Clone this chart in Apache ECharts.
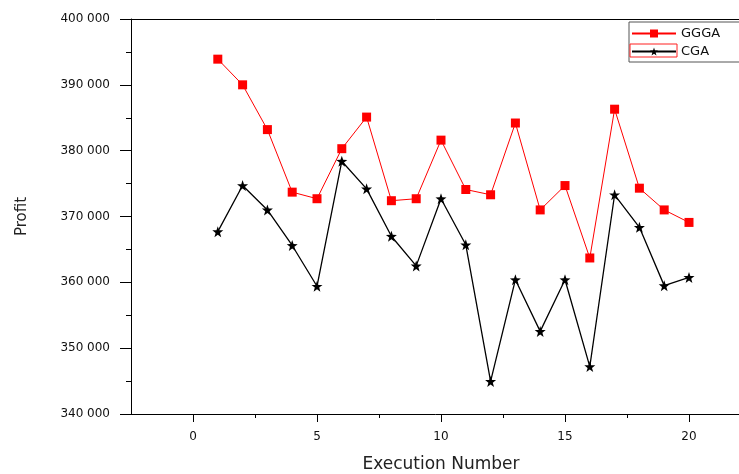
<!DOCTYPE html>
<html><head><meta charset="utf-8">
<script src="https://cdn.jsdelivr.net/npm/echarts@6/dist/echarts.min.js"></script>
<style>html,body{margin:0;padding:0;background:#fff}#c{width:739px;height:474px}</style>
</head><body><div id="c"></div>
<script>
const executions = [1,2,3,4,5,6,7,8,9,10,11,12,13,14,15,16,17,18,19,20];
const ggga = [393900,390000,383200,373700,372700,380300,385100,372400,372700,381600,374100,373300,384200,371000,374700,363700,386300,374300,371000,369100];
const cga = [367700,374700,371000,365600,359400,378400,374200,367000,362500,372700,365700,344950,360400,352550,360400,347200,373300,368350,359500,360750];
const xTickLabels = [0,5,10,15,20];
const xMinorTicks = [2.5,7.5,12.5,17.5,22.5];
const seriesNames = ['GGGA','CGA'];

function starPath(){
  let p = 'path://';
  for (let i = 0; i < 10; i++) {
    const a = (-90 + i*36) * Math.PI/180;
    const r = i % 2 === 0 ? 10 : 4;
    p += (i === 0 ? 'M' : 'L') + (r*Math.cos(a)).toFixed(2) + ' ' + (r*Math.sin(a)).toFixed(2) + ' ';
  }
  return p + 'Z';
}
const STAR = starPath();
const FONT = 'DejaVu Sans';

const chart = echarts.init(document.getElementById('c'), null, {renderer:'canvas'});
chart.setOption({
  animation:false,
  backgroundColor:'#fff',
  grid:{left:131, top:19, height:395, width:620, containLabel:false, outerBoundsMode:'none'},
  xAxis:[
    {type:'value', min:-2.5, max:22.5, interval:2.5, position:'bottom',
     name:'Execution Number', nameLocation:'middle', nameGap:42,
     nameTextStyle:{fontFamily:FONT, fontSize:17, color:'#222'},
     axisLine:{show:true, onZero:false, lineStyle:{color:'#000', width:1}},
     axisTick:{show:true, inside:false, length:8, customValues:xTickLabels, lineStyle:{color:'#000'}},
     axisLabel:{show:true, margin:17, customValues:xTickLabels, fontFamily:FONT, fontSize:12, color:'#111'},
     splitLine:{show:false}},
    {type:'value', min:-2.5, max:22.5, interval:2.5, position:'bottom',
     axisLine:{show:false},
     axisTick:{show:true, inside:false, length:4, customValues:xMinorTicks, lineStyle:{color:'#000'}},
     axisLabel:{show:false}, splitLine:{show:false}},
    {type:'value', min:-2.5, max:22.5, interval:2.5, position:'top',
     axisLine:{show:true, onZero:false, lineStyle:{color:'#000', width:1}},
     axisTick:{show:false}, axisLabel:{show:false}, splitLine:{show:false}}
  ],
  yAxis:[
    {type:'value', min:340000, max:400000, interval:10000, position:'left',
     name:'Profit', nameLocation:'middle', nameGap:101, nameRotate:90,
     nameTextStyle:{fontFamily:FONT, fontSize:15, color:'#222'},
     axisLine:{show:true, onZero:false, lineStyle:{color:'#000', width:1}},
     axisTick:{show:true, inside:false, length:11, lineStyle:{color:'#000'}},
     minorTick:{show:true, splitNumber:2, length:5, lineStyle:{color:'#000'}},
     axisLabel:{margin:21, fontFamily:FONT, fontSize:12, color:'#111',
       formatter:v => (v/1000) + ' 000'},
     splitLine:{show:false}}
  ],
  legend:{
    show:true, orient:'vertical', left:629, top:22,
    data:seriesNames,
    itemWidth:44, itemHeight:10, itemGap:5,
    padding:[5,40,4,2],
    backgroundColor:'#fff', borderColor:'#555', borderWidth:1,
    textStyle:{fontFamily:FONT, fontSize:13, color:'#111'}
  },
  graphic:[
    {type:'rect', shape:{x:630, y:44, width:47, height:13}, style:{fill:'none', stroke:'#ff2020', lineWidth:1}, z:100}
  ],
  series:[
    {name:seriesNames[0], type:'line', xAxisIndex:0, yAxisIndex:0,
     data:executions.map((x,i)=>[x, ggga[i]]),
     symbol:'rect', symbolSize:9,
     lineStyle:{color:'#ff0000', width:1},
     itemStyle:{color:'#ff0000'}},
    {name:seriesNames[1], type:'line', xAxisIndex:0, yAxisIndex:0,
     data:executions.map((x,i)=>[x, cga[i]]),
     symbol:STAR, symbolSize:11,
     lineStyle:{color:'#000', width:1.3},
     itemStyle:{color:'#000'}}
  ]
});
</script>
</body></html>
